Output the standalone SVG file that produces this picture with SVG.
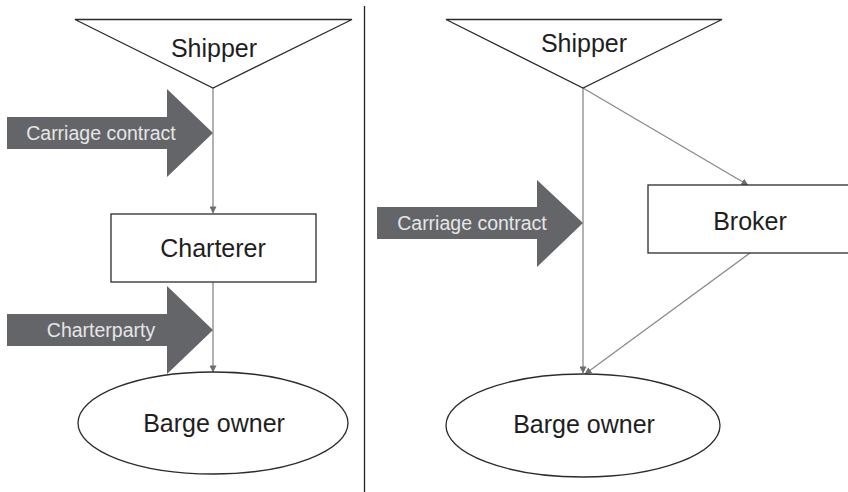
<svg xmlns="http://www.w3.org/2000/svg" width="848" height="492" viewBox="0 0 848 492">
<defs>
<style>
.node{fill:#fff;stroke:#2b2b2b;stroke-width:1.3}
.lbl{font-family:"Liberation Sans",Arial,sans-serif;font-size:25px;fill:#1e1e1e;text-anchor:middle}
.big{fill:#646569}
.blbl{font-family:"Liberation Sans",Arial,sans-serif;font-size:19.5px;fill:#e6e6e6;text-anchor:middle}
.con{stroke:#8a8a8a;stroke-width:1.3;fill:none}
</style>
<marker id="ah" viewBox="0 0 8 8" refX="7.5" refY="4" markerWidth="7" markerHeight="7" markerUnits="userSpaceOnUse" orient="auto">
<path d="M0,0 L8,4 L0,8 Z" fill="#6e6e6e"/>
</marker>
</defs>
<rect width="848" height="492" fill="#fff"/>
<line x1="364.5" y1="6" x2="364.5" y2="492" stroke="#222" stroke-width="1.3"/>
<g id="connectors">
<line class="con" x1="213" y1="88" x2="213" y2="213" marker-end="url(#ah)"/>
<line class="con" x1="213" y1="282" x2="213" y2="372" marker-end="url(#ah)"/>
<line class="con" x1="583" y1="88" x2="583" y2="373" marker-end="url(#ah)"/>
<line class="con" x1="583" y1="88" x2="748" y2="185" marker-end="url(#ah)"/>
<line class="con" x1="750" y1="253" x2="585" y2="374" marker-end="url(#ah)"/>
</g>
<g id="shipper-left">
<polygon class="node" points="75,19.5 352,19.5 213,88"/>
<text class="lbl" x="214" y="57">Shipper</text>
</g>
<g id="charterer">
<rect class="node" x="111" y="214" width="205" height="68"/>
<text class="lbl" x="213" y="257">Charterer</text>
</g>
<g id="barge-owner-left">
<ellipse class="node" cx="213" cy="423" rx="135" ry="51"/>
<text class="lbl" x="214" y="432">Barge owner</text>
</g>
<g id="carriage-contract-left">
<polygon class="big" points="7,117 167,117 167,89 213,133 167,177 167,149 7,149"/>
<text class="blbl" x="101" y="140">Carriage contract</text>
</g>
<g id="charterparty">
<polygon class="big" points="7,314 167,314 167,286 213,330 167,374 167,346 7,346"/>
<text class="blbl" x="101" y="337">Charterparty</text>
</g>
<g id="shipper-right">
<polygon class="node" points="446,19.5 722,19.5 583,88"/>
<text class="lbl" x="584" y="52">Shipper</text>
</g>
<g id="broker">
<rect class="node" x="648" y="185" width="212" height="68"/>
<text class="lbl" x="750" y="230">Broker</text>
</g>
<g id="barge-owner-right">
<ellipse class="node" cx="583" cy="425.5" rx="137" ry="51.5"/>
<text class="lbl" x="584" y="433">Barge owner</text>
</g>
<g id="carriage-contract-right">
<polygon class="big" points="377,207 537,207 537,180 583,223 537,267 537,239 377,239"/>
<text class="blbl" x="472" y="230">Carriage contract</text>
</g>
</svg>
